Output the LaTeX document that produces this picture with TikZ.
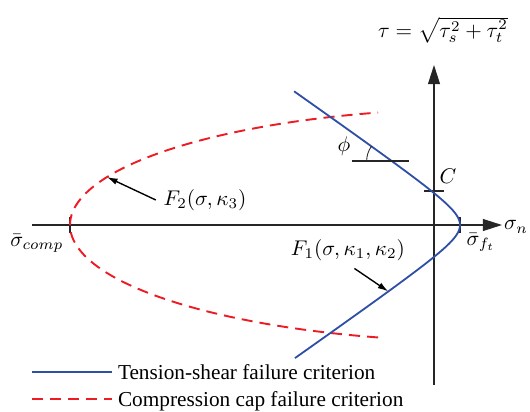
\documentclass[tikz,border=0pt]{standalone}
\usepackage[no-math]{fontspec}
\setmainfont{Liberation Serif}
\usetikzlibrary{arrows.meta}
\definecolor{shearblue}{RGB}{47,79,167}
\definecolor{capred}{RGB}{237,28,36}

\begin{document}
\begin{tikzpicture}[
    x=0.47pt, y=-0.47pt,
    line width=0.65pt,
    axis/.style={draw=black!85, -{Triangle[length=9pt, width=5.6pt]}},
    tick/.style={draw=black!85},
    shearline/.style={draw=shearblue, line width=0.85pt},
    capline/.style={draw=capred, line width=0.9pt, dash pattern=on 5.2pt off 3.3pt},
    ptr/.style={draw=black, -{Latex[length=5pt, width=3pt]}},
    keytext/.style={anchor=west, text depth=0pt, inner sep=2.5pt}
]
    \useasboundingbox (0,0) rectangle (530,411);

    % Coordinates
    \coordinate (xbeg) at (32,225);
    \coordinate (xend) at (502,225);
    \coordinate (ybeg) at (434,385);
    \coordinate (yend) at (434,65);
    \coordinate (comp) at (70,225);
    \coordinate (ft)   at (460,225);
    \coordinate (C)    at (434,191);
    \coordinate (phic) at ({487-27*cosh(1.934)}, {225-18.9*sinh(1.934)});
    \coordinate (f1tip) at ({487-27*cosh(-1.97)}, {225-18.9*sinh(-1.97)});
    \coordinate (f2tip) at ({487-417*cos(24.3)}, {225-116.5*sin(24.3)});
    \coordinate (shearkeyl) at (32,372);
    \coordinate (capkeyl)   at (32,399);

    % Axes
    \draw[axis] (xbeg) -- (xend);
    \draw[axis] (ybeg) -- (yend);
    \node (taulbl) at (443,30) {$\tau=\sqrt{\tau_s^2+\tau_t^2}$};
    \node (signlbl) at (516,227) {$\sigma_n$};

    % Ticks
    \draw[tick] ([yshift=3.8pt]comp) -- ([yshift=-3.8pt]comp);
    \draw[tick] ([yshift=3.8pt]ft) -- ([yshift=-3.8pt]ft);
    \draw[tick] ([xshift=-4.7pt]C) -- ([xshift=4.7pt]C);
    \node (complbl) at (37,243) {$\bar\sigma_{comp}$};
    \node (ftlbl) at (481,242) {$\bar\sigma_{f_t}$};
    \node (clbl) at (448,176) {$C$};

    % Compression cap (red)
    \draw[capline] plot[domain=-74.85:74.85, samples=121, smooth, variable=\t]
        ({487-417*cos(\t)}, {225-116.5*sin(\t)});

    % Tension-shear (blue)
    \draw[shearline] plot[domain=-2.65:2.655, samples=121, smooth, variable=\u]
        ({487-27*cosh(\u)}, {225-18.9*sinh(\u)});

    % Friction angle
    \draw[tick] ([xshift=-18.8pt]phic) -- ([xshift=8pt]phic);
    \draw[tick, line width=0.4pt] ([xshift=-11.75pt]phic) arc[start angle=180, end angle=216, radius=25];
    \node (philbl) at (344,146) {$\phi$};

    % Criterion labels
    \node (f2lbl) at (205,200) {$F_2(\sigma,\kappa_3)$};
    \node (f1lbl) at (348,250) {$F_1(\sigma,\kappa_1,\kappa_2)$};
    \draw[ptr] (f2lbl.west) -- (f2tip);
    \draw[ptr] ([xshift=3pt]f1lbl.south) -- (f1tip);

    % Legend
    \node[keytext] (shearkey) at (112,372) {Tension-shear failure criterion};
    \node[keytext] (capkey) at (112,399) {Compression cap failure criterion};
    \draw[shearline] (shearkeyl) -- (shearkey.west);
    \draw[capline] (capkeyl) -- (capkey.west);

\end{tikzpicture}
\end{document}
